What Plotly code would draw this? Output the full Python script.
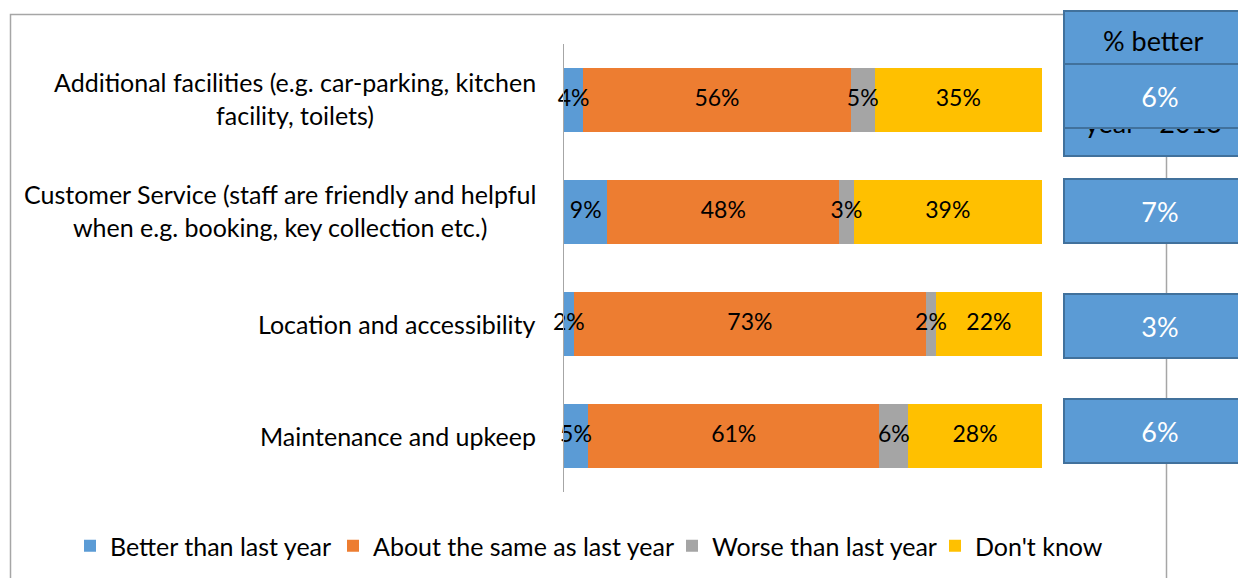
import plotly.graph_objects as go

# Survey items (top to bottom)
categories = [
    "Additional facilities (e.g. car-parking, kitchen<br>facility, toilets)",
    "Customer Service (staff are friendly and helpful<br>when e.g. booking, key collection etc.)",
    "Location and accessibility",
    "Maintenance and upkeep",
]

series_names = ["Better than last year", "About the same as last year",
                "Worse than last year", "Don't know"]
better = [4, 9, 2, 5]
same = [56, 48, 73, 61]
worse = [5, 3, 2, 6]
dont_know = [35, 39, 22, 28]
series_values = [better, same, worse, dont_know]
series_colors = ["#5B9BD5", "#ED7D31", "#A5A5A5", "#FFC000"]
legend_widths = [218, 294, 218, 126]

# "% better than last year - 2013" comparison values
better_2013 = [6, 7, 3, 6]

W, H = 1238, 578
L, R, T, B = 564, 1042, 44, 492
FONT = "Lato, Carlito, Calibri, sans-serif"
FS_LABEL = 25
FS_VALUE = 23
FS_BOX = 27


def px_x(p):
    return (p - L) / (R - L)


def px_y(p):
    return (B - p) / (B - T)


fig = go.Figure()
for name, vals, col, lw in zip(series_names, series_values, series_colors,
                               legend_widths):
    fig.add_trace(go.Bar(
        y=categories, x=vals, name=name, orientation="h",
        marker=dict(color=col, line=dict(width=0)),
        legendwidth=lw, hoverinfo="skip",
    ))

# value labels sit above every bar: centre of each segment in a 100% stack
totals = [sum(row) for row in zip(*series_values)]
running = [0.0] * len(categories)
for vals in series_values:
    mids = []
    for i, v in enumerate(vals):
        share = v / totals[i] * 100
        mids.append(running[i] + share / 2)
        running[i] += share
    fig.add_trace(go.Scatter(
        x=mids, y=categories, mode="text",
        text=[f"{v}%" for v in vals],
        textposition="middle center",
        textfont=dict(family=FONT, size=FS_VALUE, color="#000000"),
        showlegend=False, hoverinfo="skip", cliponaxis=False,
    ))

annotations = []
# category labels, centred line by line, right edge near the axis
for c in categories:
    annotations.append(dict(
        xref="paper", yref="y", x=px_x(538), y=c, xanchor="right",
        yanchor="middle", align="center", showarrow=False, text=c,
        yshift=2 if "<br>" in c else 0,
        font=dict(family=FONT, size=FS_LABEL, color="#000000"),
    ))

BOX_L, BOX_W, BOX_H = 1063, 190, 62
BLUE, DARK = "#5B9BD5", "#41719C"
BOX_CX = BOX_L + BOX_W / 2 - 5

# header box and its caption
annotations.append(dict(
    xref="paper", yref="paper", x=px_x(BOX_L), y=px_y(10),
    xanchor="left", yanchor="top", showarrow=False,
    text=" ", width=BOX_W, height=143,
    bgcolor=BLUE, bordercolor=DARK, borderwidth=2, borderpad=0,
))
annotations.append(dict(
    xref="paper", yref="paper", x=px_x(BOX_CX), y=px_y(40),
    xanchor="center", yanchor="middle", showarrow=False,
    text="% better",
    font=dict(family=FONT, size=FS_BOX, color="#000000"),
))
annotations.append(dict(
    xref="paper", yref="paper", x=px_x(BOX_CX), y=px_y(122),
    xanchor="center", yanchor="middle", showarrow=False,
    text="year - 2013",
    font=dict(family=FONT, size=FS_BOX, color="#000000"),
))
# value boxes
box_tops = [63, 178, 293, 398]
for top, v in zip(box_tops, better_2013):
    annotations.append(dict(
        xref="paper", yref="paper", x=px_x(BOX_L), y=px_y(top),
        xanchor="left", yanchor="top", showarrow=False,
        text=f"{v}%", width=BOX_W, height=BOX_H,
        bgcolor=BLUE, bordercolor=DARK, borderwidth=2, borderpad=0,
        font=dict(family=FONT, size=FS_BOX, color="#FFFFFF"),
    ))

# chart frame
shapes = [dict(
    type="rect", xref="paper", yref="paper",
    x0=px_x(10.5), x1=px_x(1166.5), y0=px_y(14.5), y1=px_y(600),
    line=dict(color="#A6A6A6", width=1.5), fillcolor="rgba(0,0,0,0)",
    layer="below",
)]

fig.update_layout(
    width=W, height=H,
    margin=dict(l=L, r=W - R, t=T, b=H - B, autoexpand=False),
    barmode="stack", barnorm="percent", bargap=0.43,
    paper_bgcolor="white", plot_bgcolor="white",
    showlegend=True,
    legend=dict(
        orientation="h", xref="paper", yref="paper",
        x=px_x(70), xanchor="left",
        y=px_y(546), yanchor="middle",
        font=dict(family=FONT, size=FS_LABEL, color="#000000"),
        traceorder="normal", bgcolor="rgba(0,0,0,0)",
        itemwidth=30,
    ),
    xaxis=dict(range=[0, 100], visible=False),
    yaxis=dict(
        categoryorder="array", categoryarray=categories,
        autorange="reversed", showticklabels=False, ticks="",
        showgrid=False, zeroline=False,
        showline=True, linecolor="#A6A6A6", linewidth=1,
    ),
    annotations=annotations,
    shapes=shapes,
)

fig.write_html("out.html")
